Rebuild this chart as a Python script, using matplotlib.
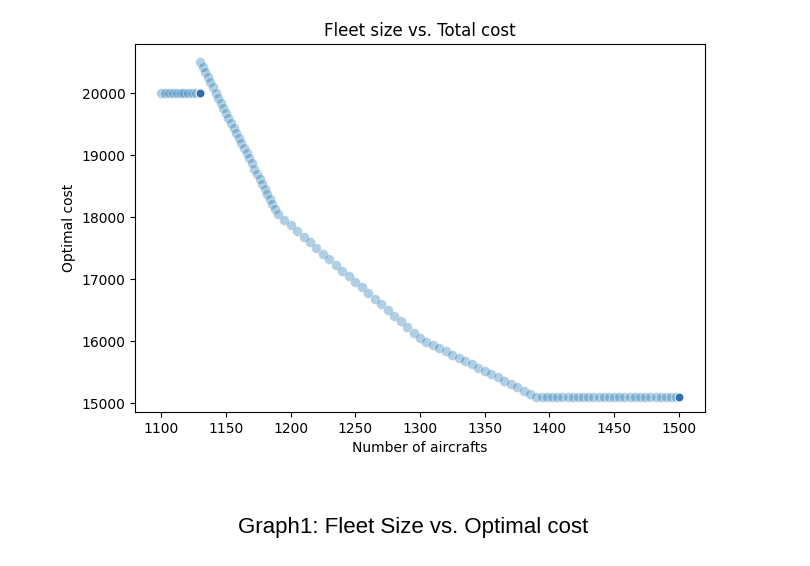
import matplotlib
matplotlib.use("Agg")
import matplotlib.pyplot as plt

# flat start
x_flat = [1100, 1103, 1106, 1109, 1112, 1115, 1118, 1121, 1124, 1127, 1130]
y_flat = [20000] * len(x_flat)

# steep segment
x_seg1 = list(range(1130, 1191, 2))
y_seg1 = [20500, 20418, 20337, 20255, 20173, 20092, 20010, 19928, 19847, 19765,
          19683, 19602, 19520, 19438, 19357, 19275, 19193, 19112, 19030, 18948,
          18867, 18785, 18703, 18622, 18540, 18458, 18377, 18295, 18213, 18132, 18050]

x_seg2 = list(range(1195, 1301, 5))
y_seg2 = [17959, 17868, 17777, 17686, 17595, 17505, 17414, 17323, 17232, 17141, 17050,
          16959, 16868, 16777, 16686, 16595, 16505, 16414, 16323, 16232, 16141, 16050]

x_seg3 = list(range(1305, 1391, 5))
y_seg3 = [15997, 15944, 15892, 15839, 15786, 15733, 15681, 15628, 15575, 15522,
          15469, 15417, 15364, 15311, 15258, 15206, 15153, 15100]

x_tail = list(range(1394, 1501, 4))
y_tail = [15100] * len(x_tail)

xs = x_flat + x_seg1 + x_seg2 + x_seg3 + x_tail
ys = y_flat + y_seg1 + y_seg2 + y_seg3 + y_tail

fig = plt.figure(figsize=(8.1, 5.66), dpi=100)
ax = fig.add_axes([0.167, 0.272, 0.703, 0.65])
ax.scatter(xs, ys, s=50, color="#1f77b4", alpha=0.35, edgecolor="white", linewidth=0.6)
ax.scatter([1130, 1500], [20000, 15100], s=40, color="#2f6fae", edgecolor="white", linewidth=0.6)

ax.set_xlim(1080, 1520)
ax.set_ylim(14860, 20790)
ax.set_xticks(range(1100, 1501, 50))
ax.set_yticks(range(15000, 20001, 1000))
ax.tick_params(labelsize=10)
ax.set_title("Fleet size vs. Total cost", fontsize=12)
ax.set_xlabel("Number of aircrafts", fontsize=10)
ax.set_ylabel("Optimal cost", fontsize=10)

fig.text(0.51, 0.058, "Graph1: Fleet Size vs. Optimal cost", ha="center",
         fontsize=16, family="Liberation Sans")

fig.savefig("out.png")
